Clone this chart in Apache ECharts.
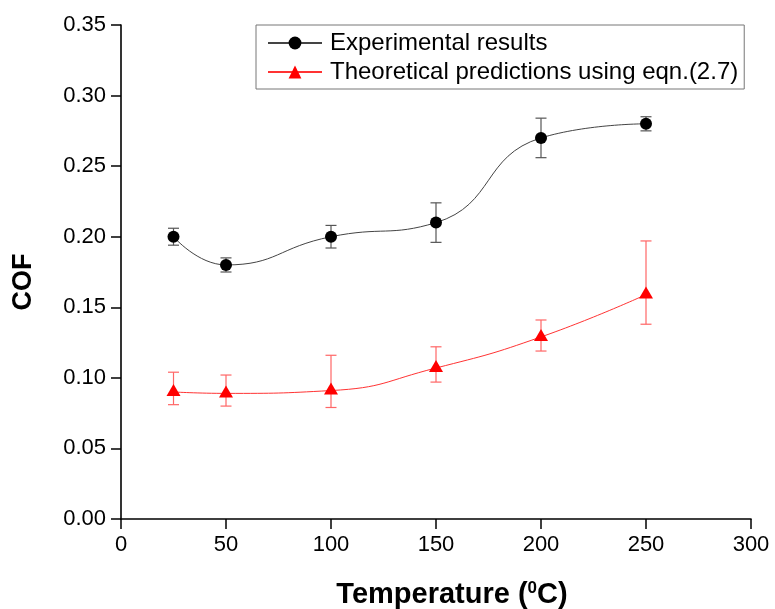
<!DOCTYPE html>
<html>
<head>
<meta charset="utf-8">
<script src="https://cdn.jsdelivr.net/npm/echarts@6/dist/echarts.min.js"></script>
<style>html,body{margin:0;padding:0;background:#fff;}#c{width:775px;height:609px;}</style>
</head>
<body>
<div id="c"></div>
<script>
const temps = [25, 50, 100, 150, 200, 250];
const expMean = [0.200, 0.180, 0.200, 0.210, 0.270, 0.280];
const expLow  = [0.194, 0.175, 0.192, 0.196, 0.256, 0.275];
const expHigh = [0.206, 0.185, 0.208, 0.224, 0.284, 0.285];
const theoMean = [0.090, 0.089, 0.091, 0.107, 0.129, 0.159];
const theoLow  = [0.081, 0.080, 0.079, 0.097, 0.119, 0.138];
const theoHigh = [0.104, 0.102, 0.116, 0.122, 0.141, 0.197];
const xTicks = [0, 50, 100, 150, 200, 250, 300];
const yTicks = [0.00, 0.05, 0.10, 0.15, 0.20, 0.25, 0.30, 0.35];

const FONT = 'Liberation Sans, Arial, sans-serif';

function errData(low, high) {
  return temps.map((t, i) => [t, low[i], high[i]]);
}
function errRender(color) {
  return function (params, api) {
    const x = api.value(0);
    const lo = api.coord([x, api.value(1)]);
    const hi = api.coord([x, api.value(2)]);
    const cap = 5.5;
    const style = { stroke: color, lineWidth: 1.2 };
    return {
      type: 'group',
      children: [
        { type: 'line', shape: { x1: lo[0], y1: lo[1], x2: hi[0], y2: hi[1] }, style },
        { type: 'line', shape: { x1: lo[0] - cap, y1: lo[1], x2: lo[0] + cap, y2: lo[1] }, style },
        { type: 'line', shape: { x1: hi[0] - cap, y1: hi[1], x2: hi[0] + cap, y2: hi[1] }, style }
      ]
    };
  };
}

const chart = echarts.init(document.getElementById('c'));
chart.setOption({
  animation: false,
  backgroundColor: '#fff',
  grid: { left: 121, right: 24, top: 25, bottom: 90, containLabel: false, outerBoundsMode: 'none' },
  legend: {
    orient: 'vertical',
    left: 256, top: 25,
    padding: [6, 6, 5, 11],
    itemGap: 5,
    itemWidth: 54, itemHeight: 16,
    borderColor: '#777', borderWidth: 1,
    textStyle: { fontFamily: FONT, fontSize: 24, color: '#000', padding: [0, 0, 0, 3] },
    data: ['Experimental results', 'Theoretical predictions using eqn.(2.7)']
  },
  xAxis: {
    type: 'value', min: xTicks[0], max: xTicks[xTicks.length - 1], interval: 50,
    axisLine: { lineStyle: { color: '#000', width: 1.6 } },
    axisTick: { inside: false, length: 10, lineStyle: { color: '#000', width: 1.5 } },
    axisLabel: { margin: 15, fontFamily: FONT, fontSize: 22, color: '#000' },
    splitLine: { show: false },
    name: '{a|Temperature (}{s|0}{a|C)}',
    nameLocation: 'middle', nameGap: 61,
    nameTextStyle: {
      padding: [0, 0, 0, 32],
      rich: {
        a: { fontFamily: FONT, fontSize: 29, fontWeight: 'bold', color: '#000' },
        s: { fontFamily: FONT, fontSize: 17, fontWeight: 'bold', color: '#000', verticalAlign: 'top', padding: [0, 0, 12, 0] }
      }
    }
  },
  yAxis: {
    type: 'value', min: yTicks[0], max: yTicks[yTicks.length - 1], interval: 0.05,
    axisLine: { show: true, lineStyle: { color: '#000', width: 1.6 } },
    axisTick: { show: true, inside: false, length: 10, lineStyle: { color: '#000', width: 1.5 } },
    axisLabel: { margin: 15, fontFamily: FONT, fontSize: 22, color: '#000', formatter: v => v.toFixed(2) },
    splitLine: { show: false },
    name: 'COF', nameLocation: 'middle', nameGap: 84,
    nameTextStyle: { fontFamily: FONT, fontSize: 27, fontWeight: 'bold', color: '#000', padding: [0, 20, 0, 0] }
  },
  series: [
    {
      type: 'custom', name: 'expErr', z: 1, silent: true,
      renderItem: errRender('#555'),
      data: errData(expLow, expHigh), encode: { x: 0, y: [1, 2] }
    },
    {
      type: 'custom', name: 'theoErr', z: 1, silent: true,
      renderItem: errRender('#ff6666'),
      data: errData(theoLow, theoHigh), encode: { x: 0, y: [1, 2] }
    },
    {
      name: 'Experimental results', type: 'line', z: 3, smooth: 0.5,
      data: temps.map((t, i) => [t, expMean[i]]),
      symbol: 'circle', symbolSize: 12,
      itemStyle: { color: '#000' },
      lineStyle: { color: '#444', width: 1 }
    },
    {
      name: 'Theoretical predictions using eqn.(2.7)', type: 'line', z: 3, smooth: 0.5,
      data: temps.map((t, i) => [t, theoMean[i]]),
      symbol: 'triangle', symbolSize: [14, 12], symbolOffset: [0, -2],
      itemStyle: { color: '#ff0000' },
      lineStyle: { color: '#ff3333', width: 1 }
    }
  ]
});
</script>
</body>
</html>
